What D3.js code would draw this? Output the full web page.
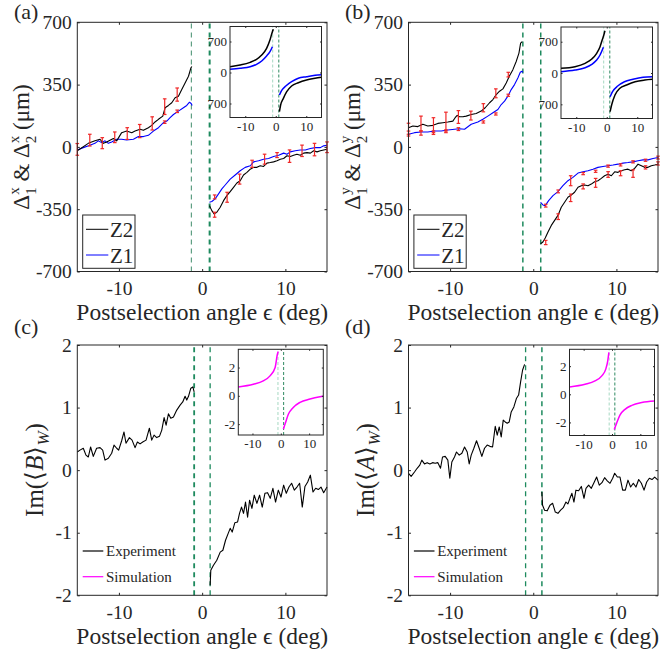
<!DOCTYPE html>
<html>
<head>
<meta charset="utf-8">
<script src="https://cdn.jsdelivr.net/npm/d3@7"></script>
<style>
  body { margin: 0; background: #fff; }
  text { font-family: "Liberation Serif", "Times New Roman", serif; fill: #262626; }
</style>
</head>
<body>
<svg id="fig" width="662" height="651"></svg>
<script>
// ---- tick values
const xTicks = [-10, 0, 10]
const deltaTicks = [-700, -350, 0, 350, 700]
const imTicks = [-2, -1, 0, 1, 2]
const insetDeltaTicks = [-700, 0, 700]
const insetDeltaLabels = ['700', '0', '700']
const insetImTicks = [-2, 0, 2]

// ---- panel (a): Delta^x, Z2 (black) and Z1 (blue)
const aZ2LeftE = [-15.0, -13.68, -12.88, -12.27, -11.87, -11.47, -10.67, -10.27, -9.67, -9.07, -8.46, -8.06, -7.46, -7.06, -6.46, -6.06, -5.66, -5.25, -4.73, -4.45, -4.05, -3.65, -3.25, -2.85, -2.45, -2.05, -1.64, -1.36, -1.24]
const aZ2LeftV = [-22, 20, 34, 43, 20, 28, 47, 34, 80, 89, 80, 89, 99, 93, 108, 121, 140, 155, 173, 220, 233, 248, 276, 285, 322, 359, 397, 443, 452]
const aZ1LeftE = [-15.0, -14.28, -13.48, -12.88, -12.48, -12.07, -11.67, -11.27, -10.87, -10.27, -9.67, -9.07, -8.26, -7.66, -7.06, -6.46, -5.86, -5.25, -4.65, -4.25, -3.85, -3.45, -2.85, -2.25, -1.85, -1.52, -1.32, -1.2]
const aZ1LeftV = [-17, -4, 9, 20, 34, 24, 34, 20, 28, 43, 43, 39, 43, 58, 58, 65, 89, 108, 136, 145, 164, 182, 201, 220, 233, 251, 244, 233]
const aZ2RightE = [0.88, 1.16, 1.44, 1.76, 2.17, 2.57, 2.97, 3.37, 3.77, 4.17, 4.57, 4.97, 5.38, 5.78, 6.18, 6.58, 6.98, 7.38, 7.78, 8.18, 8.58, 8.99, 9.39, 9.79, 10.19, 10.59, 10.99, 11.39, 11.79, 12.19, 12.6, 13.0, 13.4, 13.8, 14.2, 14.6, 15.0]
const aZ2RightV = [-330, -358, -376, -367, -339, -302, -274, -251, -227, -203, -190, -158, -143, -125, -115, -115, -106, -110, -91, -88, -84, -78, -69, -65, -50, -54, -47, -41, -47, -35, -32, -35, -22, -28, -22, -17, -13]
const aZ1RightE = [0.88, 1.16, 1.56, 1.97, 2.37, 2.77, 3.37, 3.97, 4.57, 5.17, 5.78, 6.18, 6.78, 7.38, 7.98, 8.58, 9.19, 9.79, 10.19, 10.59, 11.19, 11.79, 12.39, 13.0, 13.6, 14.2, 14.6, 15.0]
const aZ1RightV = [-311, -307, -292, -264, -236, -214, -181, -158, -134, -115, -106, -84, -78, -69, -65, -54, -47, -35, -41, -28, -22, -17, -17, -9, -4, -4, 6, 9]
const aZ2BarE = [-15, -13.5, -12, -10.5, -9, -7.5, -6, -4.5, -3, 1.5, 3, 4.5, 6, 7.5, 9, 10.5, 12, 13.5, 15]
const aZ2BarV = [-14, 38, 21, 54, 75, 89, 132, 226, 294, -381, -283, -181, -95, -69, -46, -52, -22, -15, -2]
const aZ2BarErr = [33, 33, 31, 30, 33, 37, 37, 44, 37, 14, 28, 28, 20, 28, 14, 35, 32, 35, 30]
const aZ1BarE = [-4.5, -3, 1.5]
const aZ1BarV = [139, 200, -281]
const aZ1BarErr = [7, 7, 11]
// inset (a): simulation
const aInZ2LeftE = [-15, -11.7, -8.4, -6.3, -4.6, -3.0, -1.9, -1.1, -0.8]
const aInZ2LeftV = [131, 169, 230, 298, 395, 546, 734, 921, 975]
const aInZ1LeftE = [-15, -11.7, -8.4, -6.3, -4.6, -3.0, -1.9, -1.1]
const aInZ1LeftV = [72, 95, 131, 185, 260, 373, 470, 583]
const aInZ2RightE = [1.2, 1.6, 2.5, 3.6, 5.2, 7.4, 10.1, 12.9, 15]
const aInZ2RightV = [-885, -734, -583, -434, -305, -230, -169, -131, -108]
const aInZ1RightE = [1.2, 1.9, 3.3, 5.2, 7.4, 10.1, 12.9, 15]
const aInZ1RightV = [-508, -411, -305, -208, -131, -95, -63, -50]

// ---- panel (b): Delta^y
const bZ2LeftE = [-15.0, -14.48, -13.88, -13.28, -12.68, -12.07, -11.47, -10.87, -10.27, -9.67, -9.39, -9.15, -8.86, -8.46, -8.06, -7.46, -6.86, -6.26, -5.78, -5.25, -4.85, -4.45, -4.05, -3.65, -3.25, -2.85, -2.45, -2.05, -1.72, -1.52, -1.32]
const bZ2LeftV = [108, 117, 114, 127, 117, 121, 132, 136, 140, 145, 164, 177, 169, 169, 173, 182, 188, 201, 220, 248, 266, 294, 313, 326, 359, 400, 434, 480, 527, 583, 592]
const bZ1LeftE = [-15.0, -14.28, -13.48, -12.68, -11.87, -11.07, -10.27, -9.47, -8.86, -8.26, -7.46, -6.66, -6.06, -5.46, -4.85, -4.25, -3.85, -3.45, -3.05, -2.65, -2.25, -1.85, -1.56, -1.36, -1.24]
const bZ1LeftV = [71, 80, 84, 84, 89, 89, 95, 99, 102, 99, 127, 140, 155, 173, 192, 210, 238, 257, 285, 322, 350, 387, 419, 425, 419]
const bZ2RightE = [0.88, 1.16, 1.44, 1.76, 2.17, 2.57, 2.97, 3.37, 3.77, 4.17, 4.57, 4.97, 5.38, 5.78, 6.18, 6.58, 6.98, 7.38, 7.78, 8.18, 8.58, 8.99, 9.39, 9.79, 10.19, 10.59, 10.99, 11.39, 11.79, 12.19, 12.6, 13.0, 13.4, 13.8, 14.2, 14.6, 15.0]
const bZ2RightV = [-544, -534, -512, -479, -441, -413, -385, -339, -311, -283, -270, -255, -227, -218, -214, -218, -209, -196, -190, -177, -162, -153, -162, -140, -143, -134, -128, -125, -134, -121, -97, -106, -115, -115, -106, -102, -97]
const bZ1RightE = [0.88, 1.16, 1.44, 1.85, 2.37, 2.97, 3.57, 4.17, 4.77, 5.38, 5.98, 6.58, 7.18, 7.78, 8.38, 8.99, 9.59, 10.19, 10.79, 11.39, 11.99, 12.6, 13.2, 13.8, 14.4, 15.0]
const bZ1RightV = [-311, -326, -330, -302, -274, -251, -218, -190, -171, -147, -140, -134, -125, -115, -110, -106, -102, -97, -91, -88, -84, -78, -73, -73, -65, -60]
const bZ2BarE = [-15, -13.5, -12, -10.5, -9, -7.5, -6, -4.5, -3, 1.5, 3, 4.5, 6, 7.5, 9, 10.5, 12, 13.5, 15]
const bZ2BarV = [102, 131, 122, 142, 168, 176, 220, 301, 406, -537, -392, -286, -222, -202, -155, -148, -150, -115, -93]
const bZ2BarErr = [31, 42, 42, 53, 36, 25, 23, 25, 13, 12, 16, 21, 14, 25, 16, 14, 21, 9, 9]
const bZ1BarE = [-15, -13.5, -12, -10.5, -9, -6, -4.5, -3, 1.5, 3, 4.5, 6, 7.5, 9, 10.5, 12, 13.5, 15]
const bZ1BarV = [75, 78, 80, 88, 100, 140, 185, 290, -330, -250, -190, -150, -137, -108, -101, -84, -75, -60]
const bZ1BarErr = [14, 12, 10, 8, 8, 6, 6, 6, 8, 8, 28, 6, 6, 6, 6, 6, 6, 8]
// inset (b)
const bInZ2LeftE = [-15, -10.4, -7.1, -4.9, -3.3, -2.2, -1.5, -0.8, -0.6]
const bInZ2LeftV = [105, 141, 217, 313, 441, 588, 738, 888, 946]
const bInZ1LeftE = [-15, -10.4, -7.1, -4.9, -3.3, -2.2, -1.1]
const bInZ1LeftV = [29, 67, 119, 195, 291, 403, 575]
const bInZ2RightE = [1.1, 1.6, 2.7, 4.3, 6.5, 9.3, 12.5, 15]
const bInZ2RightV = [-865, -716, -492, -342, -268, -195, -157, -141]
const bInZ1RightE = [1.1, 1.9, 3.6, 5.8, 8.6, 11.9, 15]
const bInZ1RightV = [-530, -418, -291, -195, -141, -96, -83]

// ---- panel (c): Im<B>_W experiment
const cLeftE = [-15.0, -14.68, -14.28, -13.96, -13.68, -13.4, -13.08, -12.68, -12.27, -11.95, -11.67, -11.27, -10.87, -10.59, -10.27, -10.03, -9.67, -9.39, -9.15, -8.74, -8.42, -8.06, -7.78, -7.46, -7.14, -6.74, -6.34, -6.06, -5.78, -5.46, -5.13, -4.85, -4.57, -4.33, -4.05, -3.77, -3.45, -3.05, -2.65, -2.33, -2.05, -1.85, -1.64, -1.36, -1.12, -0.96]
const cLeftV = [0.29, 0.32, 0.35, 0.24, 0.21, 0.37, 0.22, 0.35, 0.36, 0.32, 0.16, 0.19, 0.27, 0.40, 0.35, 0.32, 0.47, 0.61, 0.43, 0.52, 0.48, 0.36, 0.45, 0.42, 0.45, 0.48, 0.67, 0.48, 0.56, 0.52, 0.54, 0.64, 0.84, 0.72, 0.90, 0.83, 0.85, 0.96, 1.04, 1.09, 1.18, 1.12, 1.18, 1.31, 1.33, 1.25]
const cRightE = [0.96, 1.04, 1.36, 1.76, 2.17, 2.49, 2.81, 3.13, 3.37, 3.61, 3.93, 4.25, 4.49, 4.73, 4.97, 5.21, 5.46, 5.70, 5.98, 6.26, 6.58, 6.90, 7.22, 7.54, 7.86, 8.18, 8.50, 8.82, 9.15, 9.47, 9.79, 10.11, 10.43, 10.75, 11.07, 11.39, 11.71, 12.03, 12.35, 12.68, 13.0, 13.32, 13.64, 13.96, 14.28, 14.6, 15.0]
const cRightV = [-1.84, -1.60, -1.52, -1.44, -1.31, -1.28, -1.12, -1.01, -0.93, -0.99, -0.84, -0.83, -0.69, -0.59, -0.69, -0.51, -0.75, -0.48, -0.61, -0.40, -0.53, -0.40, -0.59, -0.37, -0.36, -0.45, -0.29, -0.51, -0.32, -0.43, -0.24, -0.37, -0.27, -0.21, -0.32, -0.27, -0.21, -0.59, -0.26, -0.19, -0.08, -0.35, -0.29, -0.31, -0.27, -0.36, -0.27]
const cInLeftE = [-15, -9.7, -6.2, -3.8, -2.0, -1.2, -0.9]
const cInLeftV = [0.63, 0.82, 1.06, 1.41, 2.0, 2.94, 3.13]
const cInRightE = [0.9, 1.5, 2.7, 4.4, 6.8, 10.3, 13.8, 15]
const cInRightV = [-2.35, -2.0, -1.29, -0.82, -0.46, -0.23, -0.07, -0.03]

// ---- panel (d): Im<A>_W experiment
const dLeftE = [-15.0, -14.68, -14.28, -13.96, -13.64, -13.4, -13.08, -12.76, -12.43, -12.11, -11.79, -11.47, -11.15, -10.91, -10.59, -10.27, -10.03, -9.79, -9.47, -9.23, -8.9, -8.58, -8.26, -7.94, -7.7, -7.46, -7.14, -6.82, -6.5, -6.18, -5.86, -5.54, -5.21, -4.89, -4.57, -4.33, -4.09, -3.85, -3.61, -3.37, -3.13, -2.89, -2.65, -2.33, -2.01, -1.76, -1.52, -1.28, -1.04]
const dLeftV = [-0.05, -0.10, -0.03, 0.03, 0.08, 0.16, 0.10, 0.12, 0.10, 0.12, 0.11, 0.12, 0.03, 0.21, 0.22, 0.16, -0.13, 0.13, 0.21, 0.29, 0.24, 0.27, 0.37, 0.29, 0.10, 0.24, 0.35, 0.47, 0.35, 0.22, 0.35, 0.40, 0.38, 0.37, 0.70, 0.56, 0.69, 0.53, 0.80, 0.77, 0.75, 0.77, 0.93, 1.01, 1.15, 1.20, 1.41, 1.60, 1.69]
const dRightE = [1.04, 1.12, 1.36, 1.68, 2.01, 2.33, 2.65, 2.97, 3.29, 3.61, 3.93, 4.17, 4.41, 4.65, 4.89, 5.13, 5.46, 5.78, 6.1, 6.34, 6.66, 6.98, 7.3, 7.62, 7.94, 8.26, 8.58, 8.9, 9.23, 9.55, 9.79, 10.11, 10.43, 10.75, 11.07, 11.39, 11.71, 12.03, 12.35, 12.68, 13.0, 13.32, 13.64, 13.96, 14.28, 14.6, 15.0]
const dRightV = [-0.35, -0.56, -0.64, -0.65, -0.56, -0.53, -0.67, -0.69, -0.64, -0.60, -0.51, -0.54, -0.45, -0.37, -0.51, -0.32, -0.33, -0.26, -0.45, -0.29, -0.24, -0.29, -0.20, -0.11, -0.24, -0.20, -0.12, -0.17, -0.21, -0.13, -0.05, -0.11, -0.11, -0.32, -0.32, -0.16, -0.27, -0.21, -0.27, -0.15, -0.21, -0.32, -0.19, -0.13, -0.15, -0.11, -0.16]
const dInLeftE = [-15, -9.5, -6.0, -3.6, -2.2, -1.5, -1.1]
const dInLeftV = [0.52, 0.71, 0.95, 1.31, 1.79, 2.38, 2.98]
const dInRightE = [0.8, 1.7, 2.8, 4.6, 7.0, 10.5, 15]
const dInRightV = [-2.5, -2.02, -1.48, -1.07, -0.79, -0.59, -0.48]

// ---- drawing
const svg = d3.select('#fig')
const axisCol = '#262626'
const green = '#1e8a5e'
const red = '#f02828'

const pts = (es, vs) => es.map((e, i) => [e, vs[i]])

function drawAxes(g, x, y, xt, yt, o) {
    const [l, r] = x.range()
    const [b, t] = y.range()
    const fix = sel => {
        sel.select('.domain').remove()
        sel.attr('font-size', null).attr('font-family', null).attr('color', axisCol)
        sel.selectAll('text').style('font-size', o.font + 'px')
    }
    g.append('g').attr('transform', `translate(0,${b})`)
        .call(d3.axisBottom(x).tickValues(xt).tickSizeInner(-o.tick).tickSizeOuter(0).tickPadding(o.xpad)
            .tickFormat(d => String(d)))
        .call(fix)
    g.append('g').attr('transform', `translate(${l},0)`)
        .call(d3.axisLeft(y).tickValues(yt).tickSizeInner(-o.tick).tickSizeOuter(0).tickPadding(o.ypad)
            .tickFormat(o.yfmt || (d => String(d))))
        .call(fix)
    g.append('g').attr('transform', `translate(0,${t})`)
        .call(d3.axisTop(x).tickValues(xt).tickSizeInner(-o.tick).tickSizeOuter(0).tickFormat(''))
        .call(fix)
    g.append('g').attr('transform', `translate(${r},0)`)
        .call(d3.axisRight(y).tickValues(yt).tickSizeInner(-o.tick).tickSizeOuter(0).tickFormat(''))
        .call(fix)
    g.append('rect').attr('x', l).attr('y', t).attr('width', r - l).attr('height', b - t)
        .attr('fill', 'none').attr('stroke', axisCol).attr('stroke-width', 1)
}

function vline(g, x, y, e, col, w, dash) {
    g.append('line').attr('x1', x(e)).attr('x2', x(e))
        .attr('y1', y.range()[0]).attr('y2', y.range()[1])
        .attr('stroke', col).attr('stroke-width', w).attr('stroke-dasharray', dash)
}

function curve(g, x, y, data, col, w, smooth) {
    const line = d3.line().x(d => x(d[0])).y(d => y(d[1]))
    if (smooth) line.curve(d3.curveMonotoneX)
    g.append('path').attr('d', line(data)).attr('fill', 'none')
        .attr('stroke', col).attr('stroke-width', w).attr('stroke-linejoin', 'round')
}

function errorBars(g, x, y, es, vs, errs) {
    es.forEach((e, i) => {
        const cx = x(e), y1 = y(vs[i] - errs[i]), y2 = y(vs[i] + errs[i])
        g.append('line').attr('x1', cx).attr('x2', cx).attr('y1', y1).attr('y2', y2)
            .attr('stroke', red).attr('stroke-width', 1.2)
        ;[y1, y2].forEach(yy => g.append('line').attr('x1', cx - 1.8).attr('x2', cx + 1.8)
            .attr('y1', yy).attr('y2', yy).attr('stroke', red).attr('stroke-width', 1.2))
    })
}

function mainScales(p) {
    return {
        x: d3.scaleLinear().domain([-15, 15]).range([p.left, p.right]),
        y: d3.scaleLinear().domain(p.yDomain).range([p.bottom, p.top])
    }
}

function inset(g, box, yDomain, yt, ylabels, series) {
    const x = d3.scaleLinear().domain([-15, 15]).range([box.left, box.right])
    const y = d3.scaleLinear().domain(yDomain).range([box.bottom, box.top])
    g.append('rect').attr('x', box.left).attr('y', box.top)
        .attr('width', box.right - box.left).attr('height', box.bottom - box.top).attr('fill', '#fff')
    vline(g, x, y, -1, '#a6d8c2', 1, '3,2')
    vline(g, x, y, 1, '#2f8a62', 1, '3,2')
    series.forEach(s => curve(g, x, y, s.data, s.color, 1.5, true))
    drawAxes(g, x, y, xTicks, yt, {
        tick: 1.5, xpad: 4, ypad: 3, font: 13,
        yfmt: (d, i) => ylabels[i]
    })
}

function panelLetter(txt, x, y) {
    svg.append('text').attr('x', x).attr('y', y).style('font-size', '22px').text(txt)
}

function xLabel(p) {
    const t = svg.append('text').attr('x', (p.left + p.right) / 2).attr('y', p.bottom + 48.5)
        .attr('text-anchor', 'middle').style('font-size', '23.5px')
    t.append('tspan').text('Postselection angle ')
    t.append('tspan').text('\u03f5')
    t.append('tspan').text(' (deg)')
}

function deltaLabel(cx, cy, sup) {
    const t = svg.append('text').attr('transform', `translate(${cx},${cy}) rotate(-90)`)
        .attr('text-anchor', 'middle').style('font-size', '23px')
    const part = (s, sub) => {
        t.append('tspan').text('\u0394')
        t.append('tspan').attr('dy', -10).style('font-size', '15px').text(s)
        t.append('tspan').attr('dx', -7.5).attr('dy', 17).style('font-size', '15px').text(sub)
    }
    part(sup, '1')
    t.append('tspan').attr('dy', -7).text(' & ')
    part(sup, '2')
    t.append('tspan').attr('dy', -7).text(' (\u03bcm)')
}

function imLabel(cx, cy, letter) {
    const t = svg.append('text').attr('transform', `translate(${cx},${cy}) rotate(-90)`)
        .attr('text-anchor', 'middle').style('font-size', '25px')
    t.append('tspan').text('Im(\u27e8')
    t.append('tspan').style('font-style', 'italic').text(letter)
    t.append('tspan').text('\u27e9')
    t.append('tspan').attr('dy', 6).style('font-size', '17px').style('font-style', 'italic').text('W')
    t.append('tspan').attr('dy', -6).text(')')
}

function boxLegend(p, items) {
    const lx = p.left + 5.4, ly = p.top + 192.7
    svg.append('rect').attr('x', lx).attr('y', ly).attr('width', 52.3).attr('height', 53.3)
        .attr('fill', '#fff').attr('stroke', axisCol).attr('stroke-width', 1)
    items.forEach((it, i) => {
        const yy = ly + 14.3 + i * 25.7
        svg.append('line').attr('x1', lx + 3.3).attr('x2', lx + 25.6).attr('y1', yy).attr('y2', yy)
            .attr('stroke', it.color).attr('stroke-width', 1)
        svg.append('text').attr('x', lx + 27.3).attr('y', yy + 7.5).style('font-size', '21px').text(it.name)
    })
}

function plainLegend(p, items) {
    items.forEach((it, i) => {
        const yy = p.top + 206 + i * 25.7
        svg.append('line').attr('x1', p.left + 5.4).attr('x2', p.left + 26).attr('y1', yy).attr('y2', yy)
            .attr('stroke', it.color).attr('stroke-width', 1.2)
        svg.append('text').attr('x', p.left + 28.7).attr('y', yy + 5).style('font-size', '15px').text(it.name)
    })
}

// panel boxes
const pa = { left: 77.3, right: 327, top: 22.3, bottom: 271.5, yDomain: [-700, 700] }
const pb = { left: 408.5, right: 658, top: 22.3, bottom: 271.5, yDomain: [-700, 700] }
const pc = { left: 77.3, right: 327, top: 345, bottom: 595.3, yDomain: [-2, 2] }
const pd = { left: 408.5, right: 658, top: 345, bottom: 595.3, yDomain: [-2, 2] }
const mainOpt = { tick: 2.5, xpad: 9.5, ypad: 5.5, font: 19.5 }

// (a)
{
    const g = svg.append('g')
    const { x, y } = mainScales(pa)
    vline(g, x, y, -1.3, '#3f8c6a', 1, '5,4')
    vline(g, x, y, 0.9, green, 2, '5,4')
    curve(g, x, y, pts(aZ1LeftE, aZ1LeftV), '#0000ff', 1.1)
    curve(g, x, y, pts(aZ1RightE, aZ1RightV), '#0000ff', 1.1)
    curve(g, x, y, pts(aZ2LeftE, aZ2LeftV), '#000', 1.1)
    curve(g, x, y, pts(aZ2RightE, aZ2RightV), '#000', 1.1)
    errorBars(g, x, y, aZ1BarE, aZ1BarV, aZ1BarErr)
    errorBars(g, x, y, aZ2BarE, aZ2BarV, aZ2BarErr)
    drawAxes(g, x, y, xTicks, deltaTicks, mainOpt)
    inset(svg.append('g'), { left: 230, right: 321.5, top: 26.5, bottom: 117.5 }, [-1016, 1039],
        insetDeltaTicks, insetDeltaLabels, [
            { data: pts(aInZ1LeftE, aInZ1LeftV), color: '#0000ff' },
            { data: pts(aInZ1RightE, aInZ1RightV), color: '#0000ff' },
            { data: pts(aInZ2LeftE, aInZ2LeftV), color: '#000' },
            { data: pts(aInZ2RightE, aInZ2RightV), color: '#000' }
        ])
    boxLegend(pa, [{ name: 'Z2', color: '#000' }, { name: 'Z1', color: '#0000ff' }])
    xLabel(pa)
    deltaLabel(29, 147, 'x')
    panelLetter('(a)', 14, 19)
}

// (b)
{
    const g = svg.append('g')
    const { x, y } = mainScales(pb)
    vline(g, x, y, -1.25, green, 1.5, '5,4')
    vline(g, x, y, 0.9, green, 1.5, '5,4')
    curve(g, x, y, pts(bZ1LeftE, bZ1LeftV), '#0000ff', 1.1)
    curve(g, x, y, pts(bZ1RightE, bZ1RightV), '#0000ff', 1.1)
    curve(g, x, y, pts(bZ2LeftE, bZ2LeftV), '#000', 1.1)
    curve(g, x, y, pts(bZ2RightE, bZ2RightV), '#000', 1.1)
    errorBars(g, x, y, bZ1BarE, bZ1BarV, bZ1BarErr)
    errorBars(g, x, y, bZ2BarE, bZ2BarV, bZ2BarErr)
    drawAxes(g, x, y, xTicks, deltaTicks, mainOpt)
    inset(svg.append('g'), { left: 561, right: 652.5, top: 27, bottom: 118.5 }, [-1017, 1029],
        insetDeltaTicks, insetDeltaLabels, [
            { data: pts(bInZ1LeftE, bInZ1LeftV), color: '#0000ff' },
            { data: pts(bInZ1RightE, bInZ1RightV), color: '#0000ff' },
            { data: pts(bInZ2LeftE, bInZ2LeftV), color: '#000' },
            { data: pts(bInZ2RightE, bInZ2RightV), color: '#000' }
        ])
    boxLegend(pb, [{ name: 'Z2', color: '#000' }, { name: 'Z1', color: '#0000ff' }])
    xLabel(pb)
    deltaLabel(360, 147, 'y')
    panelLetter('(b)', 345, 19)
}

// (c)
{
    const g = svg.append('g')
    const { x, y } = mainScales(pc)
    vline(g, x, y, -0.96, green, 1.8, '5,4')
    vline(g, x, y, 0.96, green, 1.3, '5,4')
    curve(g, x, y, pts(cLeftE, cLeftV), '#000', 1.1)
    curve(g, x, y, pts(cRightE, cRightV), '#000', 1.1)
    drawAxes(g, x, y, xTicks, imTicks, mainOpt)
    inset(svg.append('g'), { left: 238.3, right: 323.3, top: 349.3, bottom: 435 }, [-2.77, 3.29],
        insetImTicks, insetImTicks, [
            { data: pts(cInLeftE, cInLeftV), color: '#ff00ff' },
            { data: pts(cInRightE, cInRightV), color: '#ff00ff' }
        ])
    plainLegend(pc, [{ name: 'Experiment', color: '#000' }, { name: 'Simulation', color: '#ff00ff' }])
    xLabel(pc)
    imLabel(43, 470, 'B')
    panelLetter('(c)', 14, 334)
}

// (d)
{
    const g = svg.append('g')
    const { x, y } = mainScales(pd)
    vline(g, x, y, -0.92, green, 1.3, '5,4')
    vline(g, x, y, 1.04, green, 1.5, '5,4')
    curve(g, x, y, pts(dLeftE, dLeftV), '#000', 1.1)
    curve(g, x, y, pts(dRightE, dRightV), '#000', 1.1)
    drawAxes(g, x, y, xTicks, imTicks, mainOpt)
    inset(svg.append('g'), { left: 569.5, right: 654.5, top: 349.3, bottom: 435.5 }, [-2.93, 3.2],
        insetImTicks, insetImTicks, [
            { data: pts(dInLeftE, dInLeftV), color: '#ff00ff' },
            { data: pts(dInRightE, dInRightV), color: '#ff00ff' }
        ])
    plainLegend(pd, [{ name: 'Experiment', color: '#000' }, { name: 'Simulation', color: '#ff00ff' }])
    xLabel(pd)
    imLabel(374, 470, 'A')
    panelLetter('(d)', 345, 334)
}
</script>
</body>
</html>
